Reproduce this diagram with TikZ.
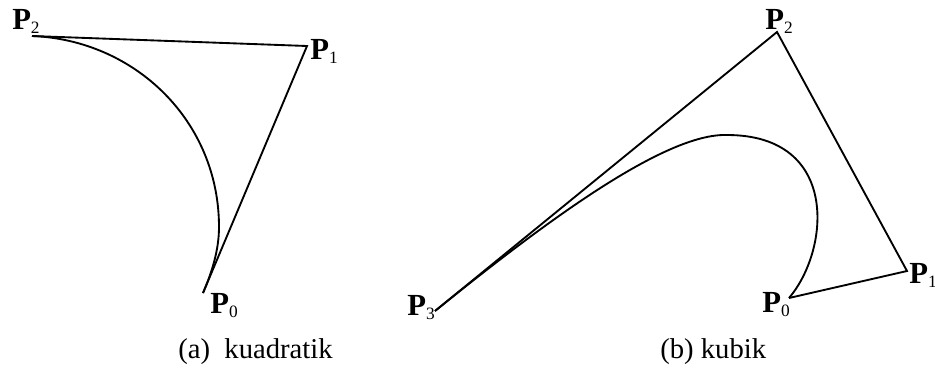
\documentclass[tikz,border=0pt]{standalone}
\usepackage{fontspec}
\setmainfont{Liberation Serif}

\newcommand{\ctrlpt}[1]{\textbf{P}\raisebox{-3.5pt}{\fontsize{13}{13}\selectfont #1}}

\begin{document}
\begin{tikzpicture}[
  x=0.75pt, y=-0.75pt,
  ptlabel/.style={anchor=base west, inner sep=0pt, font=\fontsize{23}{25}\selectfont},
  caption/.style={anchor=base west, inner sep=0pt, font=\fontsize{21.5}{24}\selectfont},
  polygon/.style={line width=1.4pt, line join=miter},
  bezier/.style={line width=1.4pt}
]
\useasboundingbox (0,0) rectangle (935,368);

% (a) quadratic: control polygon P2-P1-P0 and the curve
\coordinate (a0) at (203,293);
\coordinate (a1) at (307,46);
\coordinate (a2) at (32,36);
\draw[polygon] (a2) -- (a1) -- (a0);
\draw[bezier] (a2) .. controls (135,40) and (219,121) .. (219,227)
  .. controls (219,250) and (212,272) .. (a0);

\node[ptlabel] (la2) at (12,29)  {\ctrlpt{2}};
\node[ptlabel] (la1) at (310,59) {\ctrlpt{1}};
\node[ptlabel] (la0) at (210,313) {\ctrlpt{0}};

% (b) cubic: control polygon P3-P2-P1-P0 and the curve
\coordinate (b0) at (789,298);
\coordinate (b1) at (907,271);
\coordinate (b2) at (777,32);
\coordinate (b3) at (435,311);
\draw[polygon] (b3) -- (b2) -- (b1) -- (b0);
\draw[bezier] (b0) .. controls (830,250) and (840,135) .. (727,135)
  .. controls (665,133) and (545,222) .. (b3);

\node[ptlabel] (lb2) at (765,29)  {\ctrlpt{2}};
\node[ptlabel] (lb1) at (909,283) {\ctrlpt{1}};
\node[ptlabel] (lb0) at (762,312) {\ctrlpt{0}};
\node[ptlabel] (lb3) at (407,315) {\ctrlpt{3}};

% captions
\node[caption] (capa) at (178,358) {(a)~~kuadratik};
\node[caption] (capb) at (660,358) {(b) kubik};

\end{tikzpicture}
\end{document}
